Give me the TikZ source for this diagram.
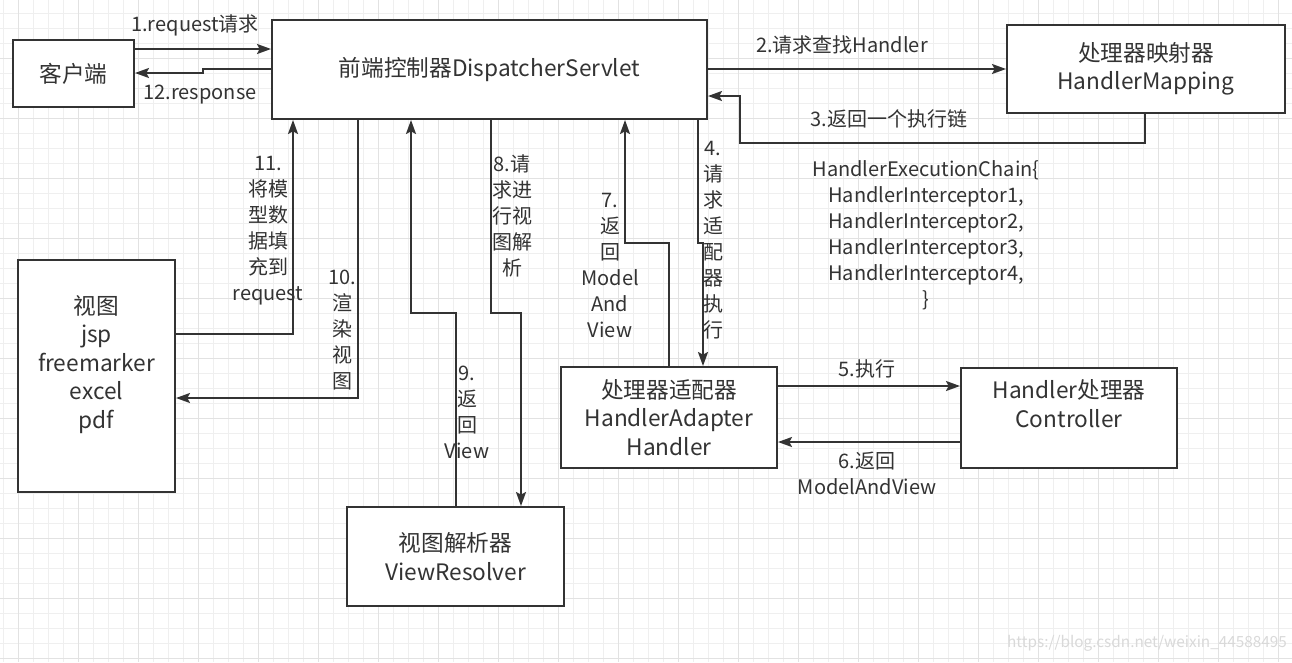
\documentclass[tikz,border=0pt]{standalone}
\usepackage{fontspec}
\setmainfont{Noto Sans CJK SC}
\usepackage{tikz}
\usetikzlibrary{arrows.meta}
\definecolor{inkgray}{HTML}{333333}
\definecolor{gridminor}{HTML}{EFEFEF}
\definecolor{gridmajor}{HTML}{E2E2E2}
\definecolor{markgray}{HTML}{D9D9D9}
\tikzset{
	box/.style={draw=inkgray, line width=1.5pt, fill=white, text=inkgray, align=center,
		inner sep=0pt, font=\fontsize{17}{21.4}\selectfont},
	lbl/.style={text=inkgray, align=center, inner sep=0pt, font=\fontsize{15}{19.5}\selectfont},
	flow/.style={draw=inkgray, line width=1.5pt, -{Stealth[length=10.5pt,width=7.5pt,inset=2pt]}},
}

\begin{document}
\begin{tikzpicture}[x=0.75pt, y=-0.75pt]
			\useasboundingbox (0,0) rectangle (1292,662);
			% grid
			\begin{scope}
				\clip (0,0) rectangle (1292,662);
				\fill[white] (0,0) rectangle (1292,662);
				\foreach \k in {0,...,86} \draw[gridminor, line width=0.75pt] ({3.3+15*\k},0) -- ({3.3+15*\k},662);
				\foreach \k in {0,...,43} \draw[gridminor, line width=0.75pt] (0,{13.3+15*\k}) -- (1292,{13.3+15*\k});
				\foreach \k in {0,...,21} \draw[gridmajor, line width=0.75pt] ({18.3+60*\k},0) -- ({18.3+60*\k},662);
				\foreach \k in {0,...,10} \draw[gridmajor, line width=0.75pt] (0,{58.3+60*\k}) -- (1292,{58.3+60*\k});
			\end{scope}

			% boxes
			\node[box, minimum width=90.75pt, minimum height=50.25pt] (client) at (73.5,73.5) {客户端};
			\node[box, minimum width=326.25pt, minimum height=74.25pt] (ds) at (489.5,69.5) {前端控制器DispatcherServlet};
			\node[box, minimum width=208.5pt, minimum height=66pt] (hm) at (1146,69) {处理器映射器\\HandlerMapping};
			\node[box, minimum width=162pt, minimum height=75.75pt] (ha) at (669,417.5) {处理器适配器\\HandlerAdapter\\Handler};
			\node[box, minimum width=162pt, minimum height=75pt] (ctrl) at (1069,418) {Handler处理器\\Controller\\\mbox{}};
			\node[box, minimum width=117.75pt, minimum height=174pt] (view) at (96.5,376) {视图\\jsp\\freemarker\\excel\\pdf\\\mbox{}};
			\node[box, minimum width=162.75pt, minimum height=74.25pt] (vr) at (455.5,556.5) {视图解析器\\ViewResolver};

			% connectors
			\draw[flow] (client.east |- 0,49) -- (ds.west |- 0,49);
			\draw[flow] (ds.west |- 0,69) -- (203,69) -- (203,73) -- (client.east |- 0,73);
			\draw[flow] (ds.east |- 0,69) -- (hm.west |- 0,69);
			\draw[flow] (hm.south -| 1145,0) |- (740,143) |- (ds.east |- 0,96);
			\draw[flow] (ds.south -| 698,0) -- (698,243) -- (703,243) -- (ha.north -| 703,0);
			\draw[flow] (ha.north -| 669,0) |- (625,243) -- (ds.south -| 625,0);
			\draw[flow] (ha.east |- 0,386) -- (ctrl.west |- 0,386);
			\draw[flow] (ctrl.west |- 0,442) -- (ha.east |- 0,442);
			\draw[flow] (ds.south -| 491,0) |- (521,313) -- (vr.north -| 521,0);
			\draw[flow] (vr.north -| 456,0) |- (411,313) -- (ds.south -| 411,0);
			\draw[flow] (ds.south -| 358,0) |- (view.east |- 0,398);
			\draw[flow] (view.east |- 0,334) -| (ds.south -| 293,0);

			% labels
			\node[lbl] (l1) at (195,25) {1.request请求};
			\node[lbl] (l12) at (200,95) {12.response};
			\node[lbl] (l2) at (842,45) {2.请求查找Handler};
			\node[lbl] (l3) at (889,119) {3.返回一个执行链};
			\node[lbl] (chain) at (926,235) {HandlerExecutionChain\{\\HandlerInterceptor1,\\HandlerInterceptor2,\\HandlerInterceptor3,\\HandlerInterceptor4,\\\}};
			\node[lbl] (l4) at (713,240) {4.\\请\\求\\适\\配\\器\\执\\行};
			\node[lbl] (l5) at (867,369) {5.执行};
			\node[lbl] (l6) at (867,473) {6.返回\\ModelAndView};
			\node[lbl] (l7) at (610,265.5) {7.\\返\\回\\Model\\And\\View};
			\node[lbl] (l8) at (512,215.5) {8.请\\求进\\行视\\图解\\析};
			\node[lbl] (l9) at (467,412.5) {9.\\返\\回\\View};
			\node[lbl] (l10) at (342,330) {10.\\渲\\染\\视\\图};
			\node[lbl] (l11) at (268,231) {11.\\将模\\型数\\据填\\充到\\request};
			\node[lbl, text=markgray, font=\fontsize{11.5}{14}\selectfont] (mark) at (1147,643) {https://blog.csdn.net/weixin\_44588495};
		\end{tikzpicture}
\end{document}
